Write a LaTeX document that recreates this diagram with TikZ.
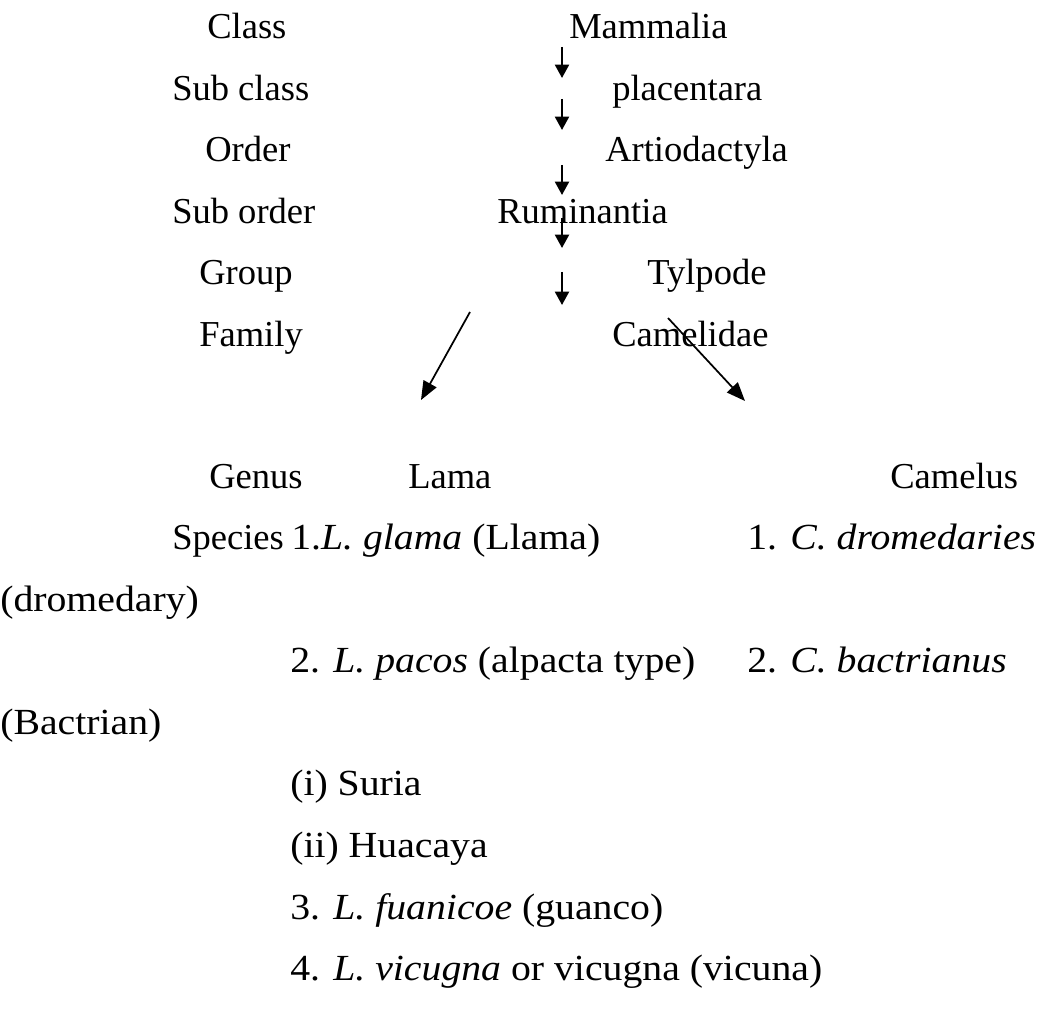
\documentclass[tikz,border=0pt]{standalone}
\usepackage{fontspec}
\setmainfont{Liberation Serif}
\newfontfamily\spfont[FakeStretch=1.08]{Liberation Serif}
\usetikzlibrary{arrows.meta}
\begin{document}
\begin{tikzpicture}[x=0.75pt,y=-0.75pt,
  txt/.style={anchor=base west,inner sep=0pt,font=\fontsize{27.4}{32}\selectfont},
  sptxt/.style={anchor=base west,inner sep=0pt,font=\spfont\fontsize{27.6}{32}\selectfont},
  arr/.style={line width=1.6pt,-{Triangle[width=10.5pt,length=10pt]}},
  darr/.style={line width=1.3pt,-{Triangle[width=11pt,length=14pt]}}]
\useasboundingbox[fill=white] (0,0) rectangle (1051,1012);
% left column of ranks
\node[txt] (class) at (207,39) {Class};
\node[txt] (subclass) at (172,100.5) {Sub class};
\node[txt] (order) at (205,162) {Order};
\node[txt] (suborder) at (172,223.5) {Sub order};
\node[txt] (group) at (199,285) {Group};
\node[txt] (family) at (199,346.5) {Family};
\node[txt] (genus) at (209,489) {Genus};
\node[txt] (species) at (172,550) {Species};
% taxa
\node[txt] (mammalia) at (569,39) {Mammalia};
\node[txt] (placentara) at (612,100.5) {placentara};
\node[txt] (artio) at (605,162) {Artiodactyla};
\node[txt] (rumin) at (497,223.5) {Ruminantia};
\node[txt] (tylpode) at (647,285) {Tylpode};
\node[txt] (camelidae) at (612,346.5) {Camelidae};
\node[txt] (lama) at (408,489) {Lama};
\node[txt] (camelus) at (890,489) {Camelus};
% species
\node[sptxt] (lglama) at (291,550) {1.\textit{L. glama} (Llama)};
\node[sptxt] (cdrom) at (747,550) {1. \textit{C. dromedaries}};
\node[sptxt] (drom) at (0,611.5) {(dromedary)};
\node[sptxt] (lpacos) at (290,673) {2. \textit{L. pacos} (alpacta type)};
\node[sptxt] (cbact) at (747,673) {2. \textit{C. bactrianus}};
\node[sptxt] (bact) at (0,734.5) {(Bactrian)};
\node[sptxt] (suria) at (290,796) {(i) Suria};
\node[sptxt] (huacaya) at (290,857.5) {(ii) Huacaya};
\node[sptxt] (lfuan) at (290,919) {3. \textit{L. fuanicoe} (guanco)};
\node[sptxt] (lvic) at (290,980.5) {4. \textit{L. vicugna} or vicugna (vicuna)};
% arrow end points
\coordinate (a1s) at (562,47);  \coordinate (a1e) at (562,78);
\coordinate (a2s) at (562,99);  \coordinate (a2e) at (562,130);
\coordinate (a3s) at (562,165); \coordinate (a3e) at (562,195);
\coordinate (a4s) at (562,218); \coordinate (a4e) at (562,248);
\coordinate (a5s) at (562,272); \coordinate (a5e) at (562,305);
\coordinate (lds) at (470,312); \coordinate (lde) at (421,400);
\coordinate (rds) at (668,318); \coordinate (rde) at (745,401);
\draw[arr] (a1s) -- (a1e);
\draw[arr] (a2s) -- (a2e);
\draw[arr] (a3s) -- (a3e);
\draw[arr] (a4s) -- (a4e);
\draw[arr] (a5s) -- (a5e);
\draw[darr] (lds) -- (lde);
\draw[darr] (rds) -- (rde);
\end{tikzpicture}
\end{document}
